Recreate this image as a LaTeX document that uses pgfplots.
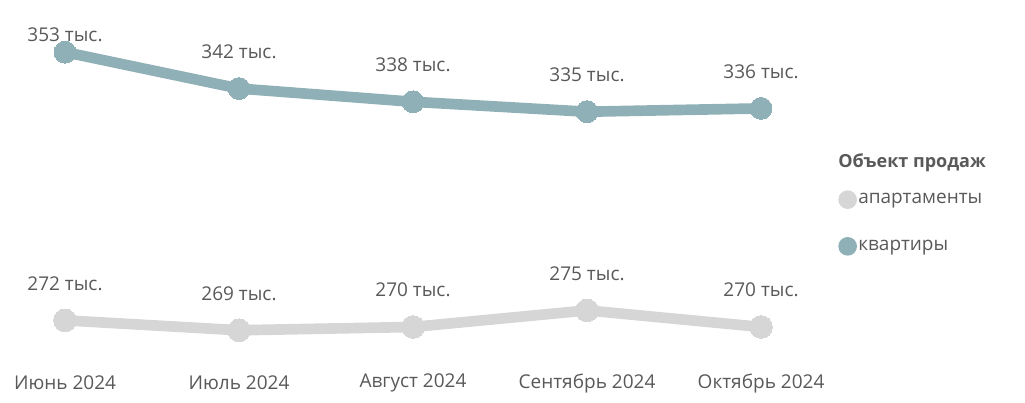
\documentclass[border=0pt]{standalone}
\usepackage{pgfplots}
\pgfplotsset{compat=1.18}
\usepackage{fontspec}
\setmainfont{Open Sans}
\definecolor{kv}{RGB}{143,176,182}
\definecolor{ap}{RGB}{214,214,214}
\definecolor{txt}{RGB}{89,89,89}
\pgfplotstableread{
x y s lab
0 272 27.75 272~тыс.
1 269 27.75 269~тыс.
2 270 27.75 270~тыс.
3 275 27.75 275~тыс.
4 270 27.75 270~тыс.
}\aptable
\pgfplotstableread{
x y s lab
0 353 12.75 353~тыс.
1 342 27.75 342~тыс.
2 338 27.75 338~тыс.
3 335 27.75 335~тыс.
4 336 27.75 336~тыс.
}\kvtable
\begin{document}
\begin{tikzpicture}
\begin{axis}[
  scale only axis, width=768.75pt, height=301.5pt,
  xmin=-0.3736, xmax=5.517, ymin=247.3, ymax=368.7,
  axis line style={draw=none}, major tick length=0pt,
  ytick=\empty, xtick={0,...,4},
  xticklabels={Июнь 2024, Июль 2024, Август 2024, Сентябрь 2024, Октябрь 2024},
  xticklabel style={anchor=center, yshift=14.25pt, font=\fontsize{14.25}{17}\selectfont, text=txt},
  clip=false,
  point meta=explicit symbolic,
  nodes near coords=\pgfplotspointmeta,
  nodes near coords align={center},
  visualization depends on={\thisrow{s}\as\myshift},
  every node near coord/.append style={anchor=center, yshift=\myshift pt, font=\fontsize{14.25}{17}\selectfont, text=txt},
  legend image code/.code={\fill[draw=none] (7pt,0pt) circle (7pt);},
  legend cell align=left,
  legend style={at={(rel axis cs:0.8176,0.5275)}, anchor=north west, draw=none, fill=none, inner sep=0pt,
    font=\fontsize{14.25}{17}\selectfont, text=txt, row sep=21pt,
    nodes={inner sep=1pt}},
]
\addplot[color=ap, line width=8pt, line join=round, mark=*, mark size=8.5pt, mark options={fill=ap, draw=ap, line width=0pt}]
  table[x=x, y=y, meta=lab] {\aptable};
\addlegendentry{апартаменты}
\addplot[color=kv, line width=8pt, line join=round, mark=*, mark size=8.2pt, mark options={fill=kv, draw=kv, line width=0pt}]
  table[x=x, y=y, meta=lab] {\kvtable};
\addlegendentry{квартиры}
\node[anchor=west, inner sep=0pt, text=txt, font=\fontsize{13.5}{16}\selectfont\bfseries] at (rel axis cs:0.8176,0.5945) {Объект продаж};
\end{axis}
\end{tikzpicture}
\end{document}
